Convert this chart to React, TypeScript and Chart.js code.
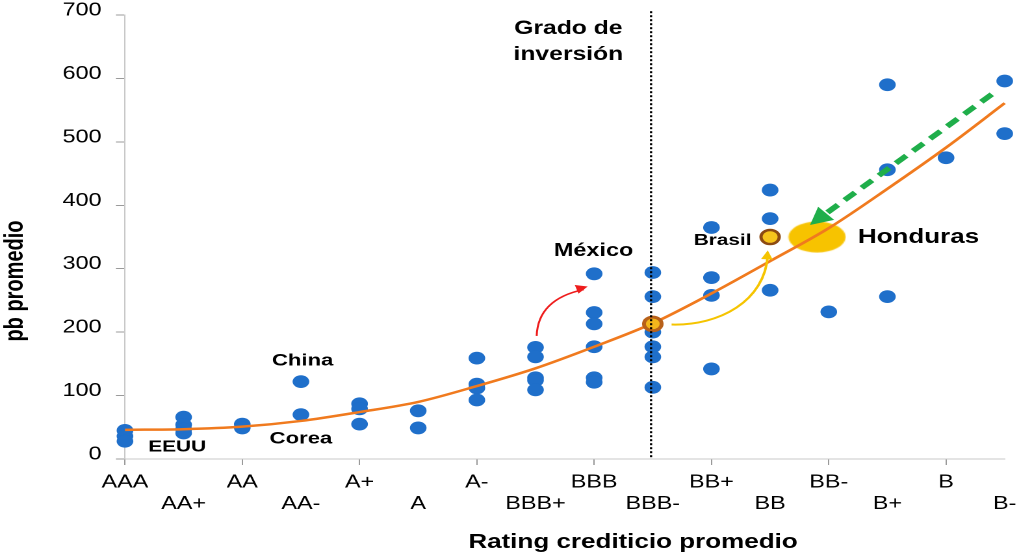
import React, { useEffect, useRef } from 'react';
import { Chart, registerables } from 'chart.js';

Chart.register(...registerables);

// ---------- data ----------
const ratingLabels = ['AAA', 'AA+', 'AA', 'AA-', 'A+', 'A', 'A-', 'BBB+', 'BBB', 'BBB-', 'BB+', 'BB', 'BB-', 'B+', 'B', 'B-'];

const spreadsAAA = [45, 36, 28];
const spreadsAAplus = [66, 54, 47, 41];
const spreadsAA = [55, 49];
const spreadsAAminus = [122, 70];
const spreadsAplus = [87, 79, 55];
const spreadsA = [76, 49];
const spreadsAminus = [159, 118, 112, 93];
const spreadsBBBplus = [176, 161, 128, 124, 109];
const spreadsBBB = [292, 231, 213, 177, 128, 121];
const spreadsBBBminus = [294, 256, 213, 200, 177, 161, 113];
const spreadsBBplus = [365, 286, 258, 142];
const spreadsBB = [424, 379, 266];
const spreadsBBminus = [232];
const spreadsBplus = [590, 456, 256];
const spreadsB = [475];
const spreadsBminus = [596, 513];

const spreadsByRating = [
  spreadsAAA, spreadsAAplus, spreadsAA, spreadsAAminus, spreadsAplus, spreadsA, spreadsAminus,
  spreadsBBBplus, spreadsBBB, spreadsBBBminus, spreadsBBplus, spreadsBB, spreadsBBminus,
  spreadsBplus, spreadsB, spreadsBminus,
];

// fitted trend read at each rating
const trendValues = [46, 47, 51, 60, 74, 90, 115, 143, 177, 214, 261, 312, 364, 426, 491, 561];

// highlighted points (rating index, spread)
const brasilPrevious = { x: 9, y: 213 };
const brasilCurrent = { x: 11, y: 350 };
const hondurasPoint = { x: 11.8, y: 350 };

const investmentGradeX = 8.97;
const yMax = 700;
const yStep = 100;

// ---------- annotation layout (data coords) ----------
const textLabels = [
  { text: 'Grado de', x: 7.56, y: 678, size: 19 },
  { text: 'inversión', x: 7.56, y: 637, size: 19 },
  { text: 'México', x: 7.99, y: 328, size: 18 },
  { text: 'China', x: 3.03, y: 155, size: 17 },
  { text: 'Corea', x: 3.0, y: 32, size: 17 },
  { text: 'EEUU', x: 0.89, y: 19, size: 16 },
  { text: 'Brasil', x: 10.19, y: 344, size: 16 },
  { text: 'Honduras', x: 13.53, y: 349, size: 20 },
];

const FONT = '"Liberation Sans", Arial, Helvetica, sans-serif';
const INNER_W = 784;
const H = 554;
const OUTER_W = 1019;

function makeEllipse(w: number, h: number, color: string) {
  const c = document.createElement('canvas');
  c.width = w;
  c.height = h;
  const g = c.getContext('2d')!;
  g.fillStyle = color;
  g.beginPath();
  g.ellipse(w / 2, h / 2, w / 2 - 0.5, h / 2 - 0.5, 0, 0, Math.PI * 2);
  g.fill();
  return c;
}

function arrowHead(ctx: CanvasRenderingContext2D, tx: number, ty: number, fx: number, fy: number, len: number, hw: number) {
  const dx = tx - fx;
  const dy = ty - fy;
  const d = Math.hypot(dx, dy) || 1;
  const ux = dx / d;
  const uy = dy / d;
  const bx = tx - ux * len;
  const by = ty - uy * len;
  ctx.beginPath();
  ctx.moveTo(tx, ty);
  ctx.lineTo(bx - uy * hw, by + ux * hw);
  ctx.lineTo(bx + uy * hw, by - ux * hw);
  ctx.closePath();
  ctx.fill();
}

const overlayPlugin = {
  id: 'overlay',
  afterDatasetsDraw(chart: any) {
    const { ctx, scales } = chart;
    const X = (v: number) => scales.x.getPixelForValue(v);
    const Y = (v: number) => scales.y.getPixelForValue(v);
    ctx.save();

    // investment grade dotted line
    ctx.strokeStyle = '#000';
    ctx.lineWidth = 1.7;
    ctx.setLineDash([2, 2]);
    ctx.beginPath();
    ctx.moveTo(X(investmentGradeX), Y(706));
    ctx.lineTo(X(investmentGradeX), Y(0));
    ctx.stroke();
    ctx.setLineDash([]);

    // red arrow (México)
    {
      const p0 = [X(7.02), Y(194)];
      const c = [X(7.04), Y(252)];
      const p2 = [X(7.89), Y(272)];
      ctx.strokeStyle = '#ee1c1c';
      ctx.fillStyle = '#ee1c1c';
      ctx.lineWidth = 1.5;
      ctx.beginPath();
      ctx.moveTo(p0[0], p0[1]);
      ctx.quadraticCurveTo(c[0], c[1], p2[0] - 3, p2[1] + 3);
      ctx.stroke();
      arrowHead(ctx, p2[0], p2[1], c[0], c[1], 9, 4.5);
    }

    // yellow arrow (Brasil)
    {
      const p0 = [X(9.32), Y(212)];
      const c1 = [X(10.14), Y(210)];
      const c2 = [X(10.91), Y(249)];
      const p3 = [X(10.96), Y(329)];
      ctx.strokeStyle = '#f5c400';
      ctx.fillStyle = '#f5c400';
      ctx.lineWidth = 2;
      ctx.beginPath();
      ctx.moveTo(p0[0], p0[1]);
      ctx.bezierCurveTo(c1[0], c1[1], c2[0], c2[1], p3[0], p3[1] + 5);
      ctx.stroke();
      arrowHead(ctx, p3[0], p3[1], c2[0], c2[1] - 20, 9, 4.5);
    }

    // green dashed arrow (Honduras)
    {
      const sx = X(14.78);
      const sy = Y(575);
      const tx = X(11.68);
      const ty = Y(369);
      const d = Math.hypot(tx - sx, ty - sy);
      const ux = (tx - sx) / d;
      const uy = (ty - sy) / d;
      const headLen = 17;
      ctx.strokeStyle = '#1fae4a';
      ctx.fillStyle = '#1fae4a';
      ctx.lineWidth = 5;
      ctx.setLineDash([11, 7]);
      ctx.beginPath();
      ctx.moveTo(sx, sy);
      ctx.lineTo(tx - ux * (headLen - 2), ty - uy * (headLen - 2));
      ctx.stroke();
      ctx.setLineDash([]);
      arrowHead(ctx, tx, ty, sx, sy, headLen, 9);
    }

    // text labels
    ctx.fillStyle = '#000';
    ctx.textAlign = 'center';
    ctx.textBaseline = 'middle';
    for (const l of textLabels) {
      ctx.font = `bold ${l.size}px ${FONT}`;
      ctx.fillText(l.text, X(l.x), Y(l.y));
    }
    ctx.restore();
  },
  afterDraw(chart: any) {
    const { ctx } = chart;
    ctx.save();
    ctx.fillStyle = '#000';
    ctx.font = `bold 20px ${FONT}`;
    ctx.textAlign = 'center';
    ctx.textBaseline = 'alphabetic';
    ctx.fillText('Rating crediticio promedio', 487, 548);
    ctx.translate(17.5, 281);
    ctx.rotate(-Math.PI / 2);
    ctx.fillText('pb promedio', 0, 0);
    ctx.restore();
  },
};

export default function App() {
  const canvasRef = useRef<HTMLCanvasElement | null>(null);

  useEffect(() => {
    document.body.style.margin = '0';
    document.body.style.overflow = 'hidden';
    const canvas = canvasRef.current;
    if (!canvas) return;

    const dotData: { x: number; y: number }[] = [];
    spreadsByRating.forEach((vals, i) => vals.forEach((v) => dotData.push({ x: i, y: v })));
    const trendData = trendValues.map((v, i) => ({ x: i, y: v }));

    const chart = new Chart(canvas, {
      type: 'scatter',
      data: {
        datasets: [
          {
            label: 'Brasil',
            data: [brasilPrevious, brasilCurrent],
            pointRadius: [6.8, 7],
            pointBackgroundColor: ['#f3b61c', '#f6c41c'],
            pointBorderColor: ['#b8611a', '#8c4a12'],
            pointBorderWidth: [3, 2.5],
            clip: false,
          } as any,
          {
            label: 'Tendencia',
            data: trendData,
            showLine: true,
            borderColor: '#f07a1e',
            borderWidth: 2.5,
            pointRadius: 0,
            cubicInterpolationMode: 'monotone',
            clip: false,
          } as any,
          {
            label: 'Honduras',
            data: [hondurasPoint],
            pointStyle: makeEllipse(45, 32, '#f7c300'),
            pointRadius: 16,
            clip: false,
          } as any,
          {
            label: 'Países',
            data: dotData,
            pointRadius: 6.4,
            pointBackgroundColor: '#1f6fca',
            pointBorderWidth: 0,
            pointBorderColor: 'rgba(0,0,0,0)',
            clip: false,
          } as any,
        ],
      },
      options: {
        animation: false,
        responsive: false,
        devicePixelRatio: 2,
        layout: { autoPadding: false, padding: { top: 15, right: 11, left: 0, bottom: 0 } },
        plugins: {
          legend: { display: false },
          tooltip: { enabled: false },
        },
        scales: {
          x: {
            type: 'linear',
            min: 0,
            max: ratingLabels.length - 1,
            afterFit: (s: any) => {
              s.height = 95;
              s.paddingLeft = 0;
              s.paddingRight = 0;
            },
            border: { color: '#c8c8c8', width: 1 },
            grid: {
              drawOnChartArea: false,
              drawTicks: true,
              tickLength: 6,
              tickColor: (c: any) => (c.tick && Math.round(c.tick.value) % 2 === 0 ? '#9a9a9a' : 'rgba(0,0,0,0)'),
            },
            ticks: {
              stepSize: 1,
              autoSkip: false,
              maxRotation: 0,
              minRotation: 0,
              padding: 6.5,
              color: '#000',
              font: { family: FONT, size: 18, lineHeight: 1.2 },
              callback: (value: any) => {
                const i = Math.round(Number(value));
                const lab = ratingLabels[i] ?? '';
                return i % 2 === 1 ? ['', lab] : lab;
              },
            },
          },
          y: {
            type: 'linear',
            min: 0,
            max: yMax,
            afterFit: (s: any) => {
              s.width = 96.15;
              s.paddingTop = 0;
              s.paddingBottom = 0;
            },
            border: { color: '#c8c8c8', width: 1 },
            grid: {
              drawOnChartArea: false,
              drawTicks: true,
              tickLength: 7,
              tickColor: '#9a9a9a',
            },
            ticks: {
              stepSize: yStep,
              padding: 11,
              labelOffset: -4.5,
              color: '#000',
              font: { family: FONT, size: 18 },
            },
          },
        },
      } as any,
      plugins: [overlayPlugin],
    });

    return () => chart.destroy();
  }, []);

  return (
    <div style={{ width: OUTER_W, height: H, overflow: 'hidden', background: '#fff' }}>
      <div
        style={{
          width: INNER_W,
          height: H,
          transform: `scaleX(${OUTER_W / INNER_W})`,
          transformOrigin: '0 0',
        }}
      >
        <canvas
          ref={canvasRef}
          width={INNER_W}
          height={H}
          style={{ width: INNER_W, height: H, display: 'block' }}
        />
      </div>
    </div>
  );
}
